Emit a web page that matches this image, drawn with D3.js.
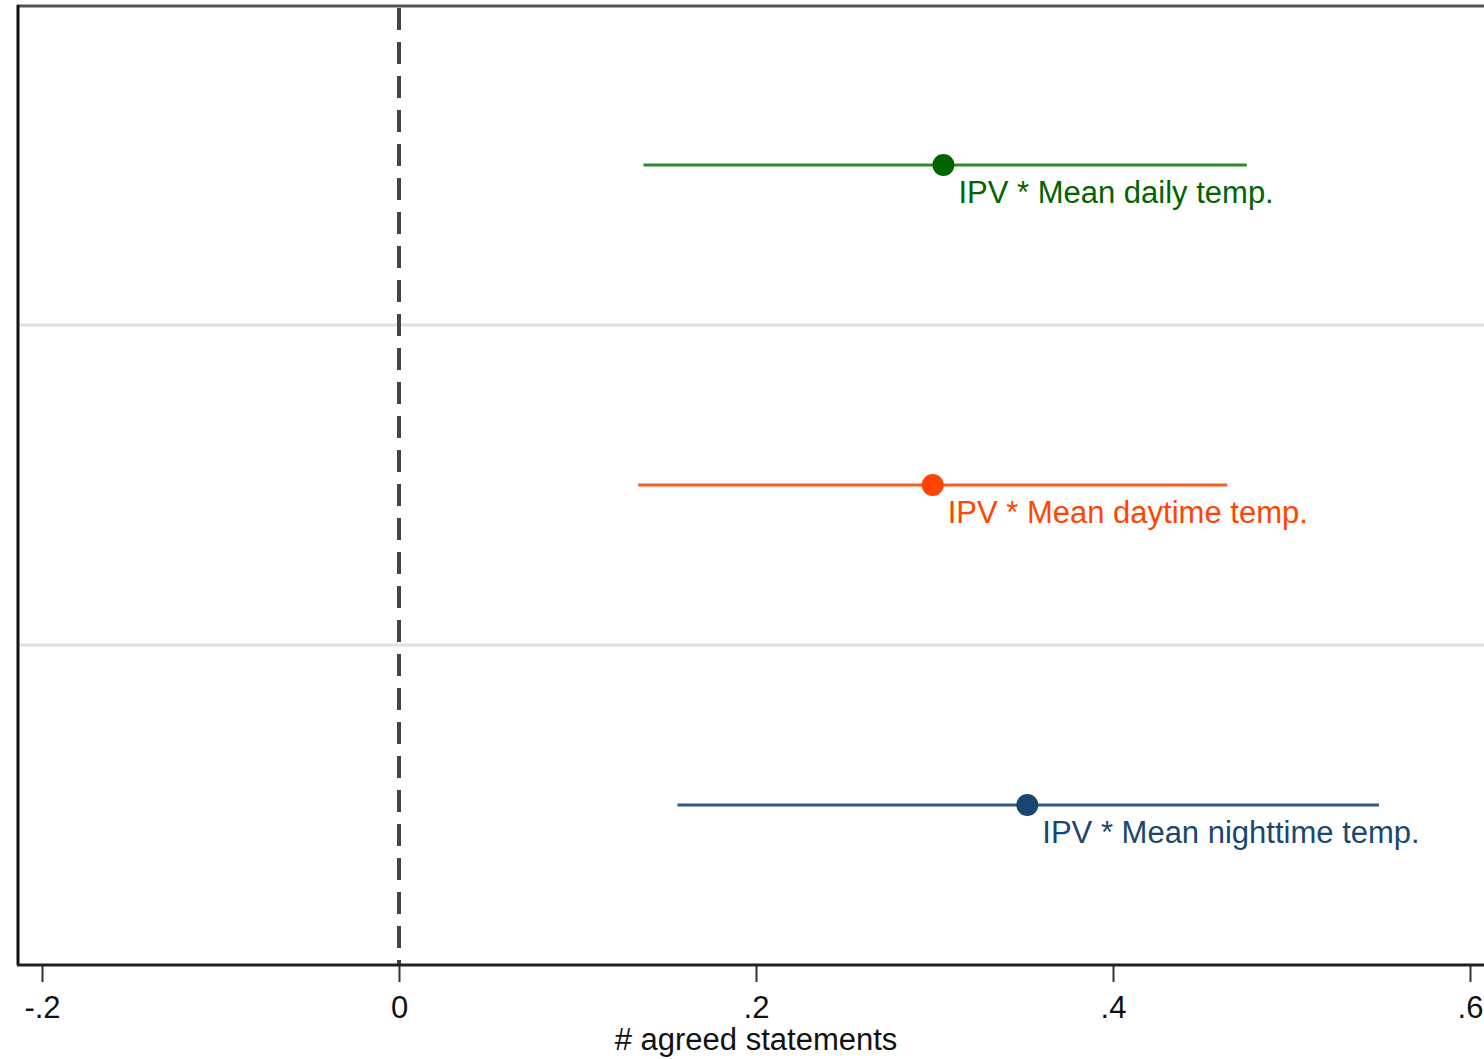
<!DOCTYPE html>
<html>
<head>
<meta charset="utf-8">
<script src="https://cdn.jsdelivr.net/npm/d3@7"></script>
<style>
  html, body { margin: 0; padding: 0; background: #fff; }
  svg { display: block; }
  text { font-family: "Liberation Sans Narrow", "Arial Narrow", "Liberation Sans", sans-serif; }
</style>
</head>
<body>
<svg id="chart" width="1484" height="1059"></svg>
<script>
// coefficient plot: point estimate + confidence interval per term
const terms     = ['IPV * Mean daily temp.', 'IPV * Mean daytime temp.', 'IPV * Mean nighttime temp.'];
const estimates = [0.305, 0.299, 0.352];
const ciLow     = [0.137, 0.134, 0.156];
const ciHigh    = [0.475, 0.464, 0.549];
const colors    = ['#006400', '#ff4500', '#1a476f'];
const lineColors = ['#2f8a2f', '#ff5a1f', '#2e5a85'];
const xTicks    = [-0.2, 0, 0.2, 0.4, 0.6];
const xTickLabels = ['-.2', '0', '.2', '.4', '.6'];
const xTitle    = '# agreed statements';

const M = { top: 5, left: 18, bottom: 965, right: 1499 };
const svg = d3.select('#chart');

const x = d3.scaleLinear().domain([-0.2, 0.6]).range([42, 1470]);
const y = d3.scaleBand().domain(terms).range([M.top, M.bottom]);

// horizontal separators between rows
const bounds = terms.slice(1).map(t => y(t));
svg.append('g').selectAll('line').data(bounds).join('line')
  .attr('x1', M.left + 2).attr('x2', M.right)
  .attr('y1', d => d).attr('y2', d => d)
  .attr('stroke', '#e0e0e0').attr('stroke-width', 3);

// frame: top + left
svg.append('line').attr('x1', M.left - 1).attr('x2', M.right)
  .attr('y1', M.top + 1).attr('y2', M.top + 1)
  .attr('stroke', '#555').attr('stroke-width', 3);
svg.append('line').attr('x1', M.left).attr('x2', M.left)
  .attr('y1', M.top).attr('y2', M.bottom)
  .attr('stroke', '#111').attr('stroke-width', 3);

// zero reference line
svg.append('line')
  .attr('x1', x(0)).attr('x2', x(0))
  .attr('y1', M.top + 1).attr('y2', M.bottom)
  .attr('stroke', '#444').attr('stroke-width', 4)
  .attr('stroke-dasharray', '22,12')
  .attr('stroke-dashoffset', -2);

// x axis
const axis = d3.axisBottom(x).tickValues(xTicks)
  .tickFormat((d, i) => xTickLabels[i]).tickSize(17).tickPadding(14);
const ax = svg.append('g').attr('transform', `translate(0,${M.bottom})`).call(axis);
ax.select('.domain').remove();
ax.selectAll('.tick line').attr('stroke', '#333').attr('stroke-width', 2);
ax.selectAll('.tick text').attr('font-size', 31).attr('fill', '#111')
  .attr('font-family', '"Liberation Sans Narrow", "Liberation Sans", sans-serif');
svg.append('line').attr('x1', M.left - 1).attr('x2', M.right)
  .attr('y1', M.bottom).attr('y2', M.bottom)
  .attr('stroke', '#222').attr('stroke-width', 3);

svg.append('text')
  .attr('x', x(0.2)).attr('y', 1050)
  .attr('text-anchor', 'middle').attr('font-size', 31).attr('fill', '#111')
  .text(xTitle);

// estimates
const rows = terms.map((t, i) => ({
  term: t, est: estimates[i], lo: ciLow[i], hi: ciHigh[i],
  color: colors[i], lineColor: lineColors[i]
}));
const g = svg.append('g');
const cy = d => y(d.term) + y.bandwidth() / 2;

g.selectAll('.ci').data(rows).join('line')
  .attr('class', 'ci')
  .attr('x1', d => x(d.lo)).attr('x2', d => x(d.hi))
  .attr('y1', cy).attr('y2', cy)
  .attr('stroke', d => d.lineColor).attr('stroke-width', 3);

g.selectAll('.pt').data(rows).join('circle')
  .attr('class', 'pt')
  .attr('cx', d => x(d.est)).attr('cy', cy).attr('r', 11)
  .attr('fill', d => d.color);

g.selectAll('.lbl').data(rows).join('text')
  .attr('class', 'lbl')
  .attr('x', d => x(d.est) + 15).attr('y', d => cy(d) + 38)
  .attr('font-size', 31).attr('fill', d => d.color)
  .text(d => d.term);
</script>
</body>
</html>
